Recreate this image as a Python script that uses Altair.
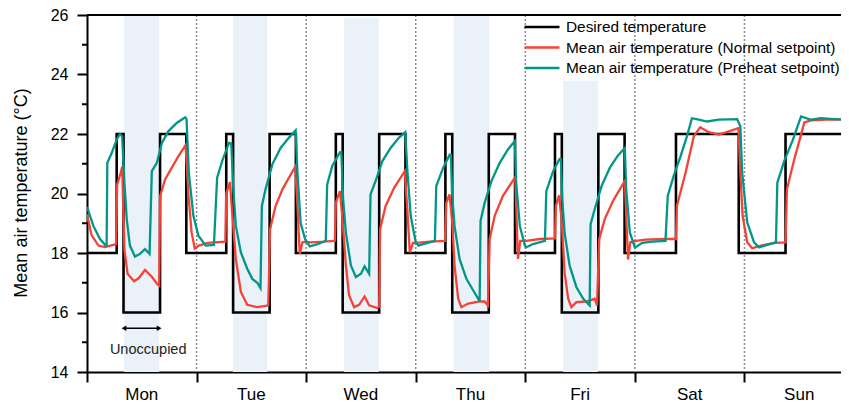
import altair as alt
import pandas as pd

# ---------------- data ----------------
days = ["Mon", "Tue", "Wed", "Thu", "Fri", "Sat", "Sun"]
day_boundaries_h = [24, 48, 72, 96, 120, 144]

# desired-temperature schedule (hour of day where setpoint changes, setpoint)
weekday_change_h = [0, 6.5, 8, 16, 21.75]
weekday_setpoint = [18, 22, 16, 22, 18]
weekend_change_h = [0, 9, 22.75]
weekend_setpoint = [18, 22, 18]

# unoccupied periods (Mon-Fri), hour of day; top of the shaded band
unocc_start = [8.1, 8.0, 8.3, 8.3, 8.3]
unocc_end = [15.8, 15.5, 15.9, 16.1, 15.9]
unocc_top = [26, 26, 25.91, 25.96, 23.79]
unocc_label = "Unoccupied"
unocc_label_h = 13.4
unocc_arrow_t = 15.47
unocc_label_t = 14.6

# mean air temperature, normal setpoint (hours since Mon 00:00, degC)
normal_h = [0.0, 1.0, 2.5, 3.9, 6.4, 6.6, 7.4, 7.7, 8.2, 8.9, 10.3, 11.3, 12.7, 14.2, 15.4, 15.8,
            16.0, 17.1, 18.55, 20.0, 21.6, 22.2, 22.9, 23.6,
            24.5, 26.4, 30.3, 30.5, 31.3, 31.8, 32.6, 33.7, 35.1, 37.3, 39.2, 39.7, 40.1, 41.3,
            42.8, 45.6, 46.1, 46.6, 47.2,
            47.9, 49.0, 51.9, 54.3, 54.5, 55.4, 55.9, 56.7, 57.4, 58.5, 59.6, 60.8, 61.8, 63.6,
            64.0, 64.2, 65.4, 67.3, 69.6, 70.2, 70.7, 71.4,
            72.1, 75.1, 78.4, 78.7, 79.4, 80.0, 80.5, 81.3, 82.0, 83.5, 86.0, 87.1, 87.8, 88.2,
            89.3, 91.1, 93.8, 94.05, 94.4, 94.9, 95.9,
            96.2, 99.2, 102.5, 102.7, 103.4, 104.0, 104.6, 105.4, 106.1, 107.2, 109.4, 111.2,
            111.7, 112.2, 113.4, 115.2, 117.8, 118.1, 118.5, 119.0, 120.3,
            122.3, 126.7, 129.0, 129.2, 131.1, 132.9, 134.3, 136.2, 138.4, 140.6, 142.7, 143.1,
            143.6, 144.6, 145.7,
            147.6, 150.5, 153.0, 153.3, 154.9, 156.4, 157.1, 158.6, 162.0, 166.5, 166.9]
normal_t = [19.3, 18.6, 18.25, 18.2, 18.3, 20.3, 20.7, 20.9, 18.1, 17.3, 17.05, 17.15, 17.43, 17.2, 16.95, 16.9,
            19.9, 20.47, 20.86, 21.25, 21.63, 20.0, 18.7, 18.15,
            18.25, 18.34, 18.38, 20.0, 20.38, 19.36, 17.8, 16.69, 16.26, 16.18, 16.22, 16.25, 18.8, 19.58,
            20.14, 20.9, 19.58, 17.97, 18.36,
            18.38, 18.36, 18.38, 18.41, 19.69, 20.08, 19.25, 17.58, 16.58, 16.18, 16.26, 16.54, 16.24, 16.15,
            16.2, 18.8, 19.58, 20.2, 20.75, 19.36, 18.02, 18.34,
            18.34, 18.38, 18.41, 19.69, 19.97, 19.03, 17.58, 16.46, 16.18, 16.3, 16.37, 16.37, 16.24, 18.47,
            19.25, 19.92, 20.55, 19.36, 17.8, 18.41, 18.41,
            18.41, 18.47, 18.49, 19.58, 19.94, 19.03, 17.35, 16.46, 16.18, 16.35, 16.37, 16.46,
            16.24, 18.47, 19.14, 19.75, 20.42, 19.25, 17.78, 18.36, 18.41,
            18.45, 18.47, 18.47, 19.58, 20.7, 21.92, 22.23, 22.06, 21.98, 22.09, 22.2, 20.7,
            19.25, 18.36, 18.16,
            18.25, 18.34, 18.36, 20.14, 21.14, 21.98, 22.39, 22.46, 22.48, 22.48, 21.6]

# mean air temperature, preheat setpoint
preheat_h = [0.0, 1.4, 2.85, 4.1, 4.3, 4.45, 5.4, 6.5, 7.2, 7.7, 8.2, 8.7, 9.4, 10.5, 11.6, 12.7, 13.7,
             14.2, 15.3, 16.4, 17.8, 19.65, 21.5, 21.8, 22.3, 23.3,
             24.4, 26.0, 27.8, 28.5, 29.6, 31.1, 31.6, 32.05, 32.6, 33.7, 35.1, 36.2, 37.3, 38.0,
             38.3, 39.1, 40.6, 42.4, 44.2, 45.7, 46.1, 46.8, 47.8, 48.8,
             50.5, 52.3, 52.6, 53.7, 55.4, 55.7, 56.1, 56.7, 57.8, 58.9, 60.0, 60.8, 61.8, 62.1,
             63.2, 64.7, 66.5, 68.3, 69.7, 70.2, 70.9, 72.0,
             72.6, 73.6, 76.2, 76.5, 78.0, 79.45, 79.7, 80.0, 80.5, 81.6, 83.1, 84.6, 85.7, 86.0,
             86.2, 87.1, 88.6, 90.4, 92.2, 93.7, 94.0, 94.8, 95.9,
             96.2, 97.7, 100.3, 100.6, 102.1, 103.5, 103.8, 104.1, 104.6, 105.7, 107.2, 108.7,
             110.1, 110.3, 111.2, 112.7, 114.5, 116.3, 117.8, 118.1, 118.9, 120.0,
             121.6, 123.8, 126.7, 127.2, 128.5, 130.0, 131.4, 132.5, 134.0, 135.8, 138.4, 142.4,
             143.1, 143.5, 144.6, 146.1, 147.2,
             149.0, 150.9, 151.2, 152.7, 154.5, 156.4, 158.6, 160.7, 163.7, 166.6, 166.9]
preheat_t = [19.55, 18.91, 18.47, 18.25, 18.25, 21.03, 21.36, 21.81, 22.0, 21.92, 20.36, 19.14, 18.25, 17.88,
             17.97, 18.13, 17.97, 20.75, 21.03, 21.7, 22.09, 22.37, 22.56, 22.5, 20.7, 19.25,
             18.58, 18.25, 18.27, 20.53, 21.09, 21.7, 21.68, 20.14, 18.91, 18.02, 17.47, 17.13, 17.0, 16.82,
             19.58, 20.14, 20.98, 21.53, 21.87, 22.12, 20.7, 19.0, 18.45, 18.22,
             18.3, 18.41, 20.3, 20.92, 21.39, 21.4, 19.81, 18.69, 17.58, 17.19, 17.3, 17.55, 17.3, 19.97,
             20.42, 21.09, 21.53, 21.87, 22.06, 20.7, 19.25, 18.36,
             18.25, 18.3, 18.41, 20.25, 20.86, 21.31, 21.3, 19.92, 18.91, 17.8, 17.13, 16.74, 16.46, 16.37,
             19.08, 19.69, 20.42, 21.03, 21.48, 21.76, 20.36, 18.91, 18.25,
             18.19, 18.3, 18.41, 20.08, 20.75, 21.16, 21.15, 19.81, 18.69, 17.58, 16.85, 16.46,
             16.24, 18.97, 19.47, 20.25, 20.86, 21.28, 21.53, 20.14, 18.69, 18.18,
             18.34, 18.38, 18.41, 19.92, 20.59, 21.25, 21.92, 22.53, 22.48, 22.42, 22.48, 22.5,
             22.26, 20.7, 19.03, 18.36, 18.19,
             18.27, 18.36, 20.36, 21.09, 21.76, 22.59, 22.48, 22.53, 22.5, 22.48, 21.7]

series_names = ["Desired temperature",
                "Mean air temperature (Normal setpoint)",
                "Mean air temperature (Preheat setpoint)"]
series_colors = ["#000000", "#f44336", "#009688"]

y_major = [14, 16, 18, 20, 22, 24, 26]
y_minor = [15, 17, 19, 21, 23, 25]

# ---------------- tables ----------------
X_END = 166.9
des_rows = []
for i, d in enumerate(days):
    ch, sp = (weekday_change_h, weekday_setpoint) if i < 5 else (weekend_change_h, weekend_setpoint)
    for h, s in zip(ch, sp):
        des_rows.append({"h": 24 * i + h, "t": s, "series": series_names[0]})
des_rows.append({"h": X_END, "t": weekend_setpoint[-1], "series": series_names[0]})
desired = pd.DataFrame(des_rows)
normal = pd.DataFrame({"h": normal_h, "t": normal_t, "series": series_names[1]})
preheat = pd.DataFrame({"h": preheat_h, "t": preheat_t, "series": series_names[2]})

shade = pd.DataFrame({
    "h": [24 * i + s for i, s in enumerate(unocc_start)],
    "h2": [24 * i + e for i, e in enumerate(unocc_end)],
    "t": [y_major[0]] * 5,
    "t2": unocc_top,
})
bounds = pd.DataFrame({"h": day_boundaries_h})
daylab = pd.DataFrame({"h": [24 * i + 12 for i in range(7)], "label": days})
minor = pd.DataFrame({"t": y_minor})
top = pd.DataFrame({"t": [y_major[-1]]})
arrow = pd.DataFrame({"h": [unocc_start[0]], "h2": [unocc_end[0]], "t": [unocc_arrow_t]})
heads = pd.DataFrame({"h": [unocc_start[0], unocc_end[0]], "t": [unocc_arrow_t] * 2,
                      "shape": ["triangle-left", "triangle-right"]})
unocc_lab = pd.DataFrame({"h": [unocc_label_h], "t": [unocc_label_t], "label": [unocc_label]})

# ---------------- encodings ----------------
PLOT_H = 357
xs = alt.Scale(domain=[0, X_END], nice=False, zero=False)
ys = alt.Scale(domain=[14, 26], nice=False, zero=False)
xaxis = alt.Axis(values=[0, 24, 48, 72, 96, 120, 144], labels=False, tickSize=10, tickWidth=2,
                 domainWidth=2, domainColor="black", tickColor="black", grid=False, title=None)
yaxis = alt.Axis(values=y_major, tickSize=10, tickWidth=2, domainWidth=2, domainColor="black",
                 tickColor="black", grid=False, labelFontSize=16, labelPadding=9, labelColor="black",
                 title="Mean air temperature (°C)", titleFontSize=18, titleFontWeight="normal",
                 titleColor="black", titleX=-57, titleY=PLOT_H / 2 - 1)


def X(f="h"):
    return alt.X(f + ":Q", scale=xs, axis=xaxis)


def Y(f="t"):
    return alt.Y(f + ":Q", scale=ys, axis=yaxis)


color = alt.Color("series:N", scale=alt.Scale(domain=series_names, range=series_colors),
                  legend=alt.Legend(title=None, orient="none", legendX=432, legendY=0,
                                    padding=4, symbolType="stroke",
                                    symbolSize=1225, symbolStrokeWidth=2.5, labelFontSize=15.4,
                                    clipHeight=16, rowPadding=3.5, labelOffset=5,
                                    labelColor="black", labelLimit=400))

l_shade = alt.Chart(shade).mark_rect(color="#eaf1f9").encode(x=X(), x2="h2:Q", y=Y(), y2="t2:Q")
l_bounds = alt.Chart(bounds).mark_rule(color="#8a8a8a", strokeDash=[2, 2], strokeWidth=1.5).encode(x=X())
l_top = alt.Chart(top).mark_rule(color="black", strokeWidth=2).encode(y=Y())
l_minor = alt.Chart(minor).mark_rule(color="black", strokeWidth=2).encode(
    y=Y(), x=alt.value(-5), x2=alt.value(0))
l_des = alt.Chart(desired).mark_line(interpolate="step-after", strokeWidth=2.6, clip=True).encode(
    x=X(), y=Y(), color=color)
l_norm = alt.Chart(normal).mark_line(strokeWidth=2.3, clip=True).encode(x=X(), y=Y(), color=color)
l_pre = alt.Chart(preheat).mark_line(strokeWidth=2.3, clip=True).encode(x=X(), y=Y(), color=color)
l_arrow = alt.Chart(arrow).mark_rule(color="black", strokeWidth=1.3).encode(x=X(), x2="h2:Q", y=Y())
l_heads = alt.Chart(heads).mark_point(filled=True, color="black", size=30, opacity=1).encode(
    x=X(), y=Y(), shape=alt.Shape("shape:N", scale=None))
l_ulab = alt.Chart(unocc_lab).mark_text(fontSize=14.5, color="#222222", baseline="alphabetic").encode(
    x=X(), y=Y(), text="label:N")
l_days = alt.Chart(daylab).mark_text(fontSize=17, color="black", baseline="alphabetic").encode(
    x=X(), y=alt.value(385), text="label:N")

chart = alt.layer(
    l_shade, l_bounds, l_des, l_norm, l_pre, l_top, l_minor, l_arrow, l_heads, l_ulab, l_days
).properties(
    width=762, height=PLOT_H,
    autosize=alt.AutoSizeParams(type="none"),
    padding={"left": 79, "top": 7, "right": -8, "bottom": 31},
).configure_view(stroke=None).configure(font="Liberation Sans")

chart.save("out.html", embed_options={"renderer": "svg", "actions": False})
